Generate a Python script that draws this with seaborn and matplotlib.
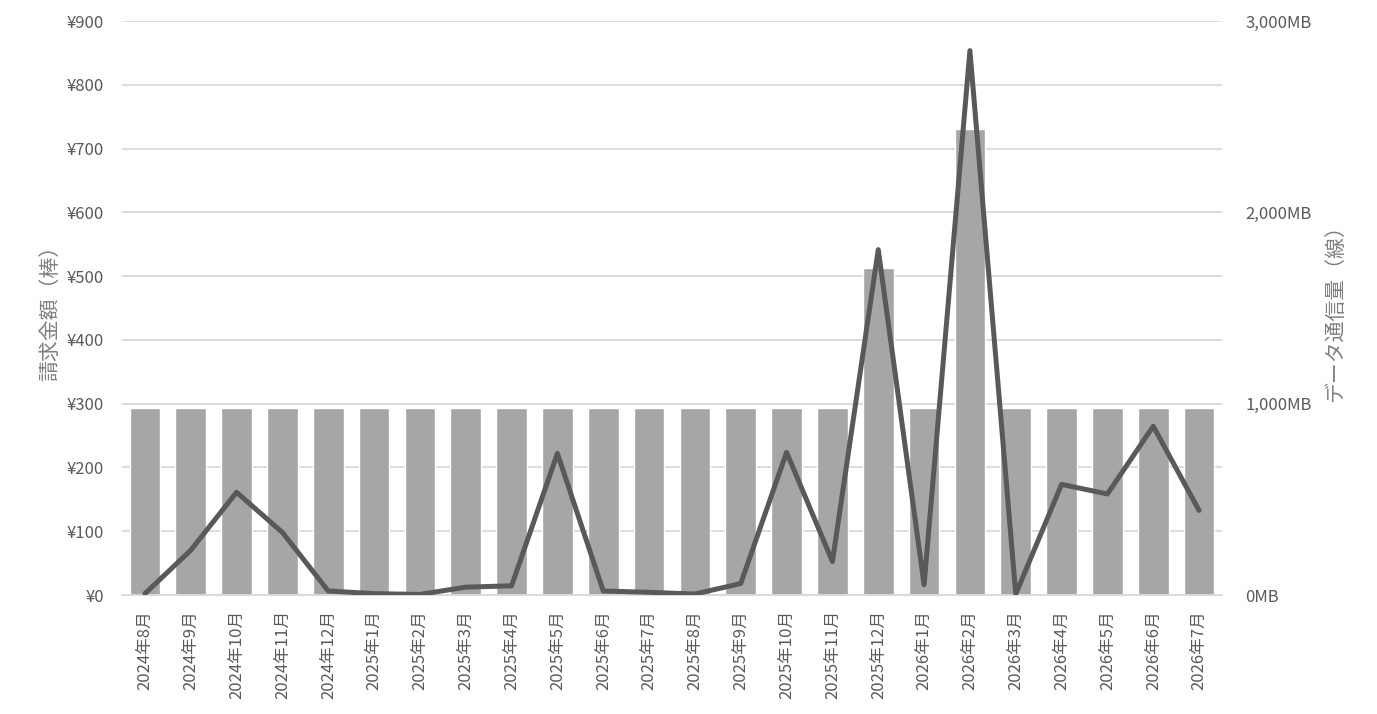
import numpy as np
import pandas as pd
import seaborn as sns
import matplotlib.pyplot as plt
from matplotlib.ticker import FuncFormatter, MultipleLocator, FixedLocator

# --- データ ---
months = ["2024年8月", "2024年9月", "2024年10月", "2024年11月", "2024年12月",
          "2025年1月", "2025年2月", "2025年3月", "2025年4月", "2025年5月",
          "2025年6月", "2025年7月", "2025年8月", "2025年9月", "2025年10月",
          "2025年11月", "2025年12月", "2026年1月", "2026年2月", "2026年3月",
          "2026年4月", "2026年5月", "2026年6月", "2026年7月"]
billing_yen = [293, 293, 293, 293, 293, 293, 293, 293, 293, 293, 293, 293,
               293, 293, 293, 293, 512, 293, 731, 293, 293, 293, 293, 293]
data_mb = [7, 234, 537, 327, 21, 7, 3, 41, 48, 740, 21, 14,
           5, 60, 746, 175, 1805, 54, 2845, 5, 578, 528, 882, 442]

df = pd.DataFrame({"month": months, "yen": billing_yen, "mb": data_mb})
df["pos"] = np.arange(len(df))

sns.set_theme(style="white")
plt.rcParams['font.family'] = ['Noto Sans CJK JP', 'DejaVu Sans']

TXT = "#595959"
LBL = "#7f7f7f"

fig, ax = plt.subplots(figsize=(13.77, 7.14), dpi=100)
fig.subplots_adjust(left=122/1377, right=1222/1377, top=1-21/714, bottom=1-595/714)

# 棒：請求金額
sns.barplot(data=df, x="month", y="yen", order=months, color="#a6a6a6",
            saturation=1, width=0.67, ax=ax, zorder=2)
ax.set_xlim(-0.5, len(months) - 0.5)
ax.set_ylim(0, 900)
ax.yaxis.set_major_locator(MultipleLocator(100))
ax.yaxis.set_major_formatter(FuncFormatter(lambda v, p: f"¥{int(v):,}"))
ax.set_axisbelow(True)
ax.grid(axis="y", color="#d9d9d9", linewidth=1.3, zorder=0)
ax.grid(axis="x", visible=False)
for s in ["top", "left", "right"]:
    ax.spines[s].set_visible(False)
ax.spines["bottom"].set_color("#d9d9d9")
ax.spines["bottom"].set_linewidth(1.3)

ax.tick_params(axis="y", length=0, labelsize=12, labelcolor=TXT, pad=13)
ax.tick_params(axis="x", which="major", length=0, labelsize=12, labelcolor=TXT, pad=11)
ax.xaxis.set_minor_locator(FixedLocator(np.arange(-0.5, len(months), 1.0)))
ax.tick_params(axis="x", which="minor", length=6, width=1.3, color="#d9d9d9")
plt.setp(ax.get_xticklabels(), rotation=90, va="top", ha="center")
ax.set_xlabel("")
ax.set_ylabel("請求金額（棒）", fontsize=15, color=LBL, labelpad=4)

# 線：データ通信量
ax2 = ax.twinx()
sns.lineplot(data=df, x="pos", y="mb", color="#595959", linewidth=3.6, ax=ax2)
ax2.set_ylim(0, 3000)
ax2.yaxis.set_major_locator(MultipleLocator(1000))
ax2.yaxis.set_major_formatter(FuncFormatter(lambda v, p: f"{int(v):,}MB"))
ax2.tick_params(axis="y", length=0, labelsize=12, labelcolor=TXT, pad=17)
for s in ["top", "left", "right", "bottom"]:
    ax2.spines[s].set_visible(False)
ax2.grid(False)
ax2.set_ylabel("データ通信量（線）", fontsize=15, color=LBL, labelpad=9)
ax2.set_xlim(-0.5, len(months) - 0.5)

fig.savefig("out.png", dpi=100)
